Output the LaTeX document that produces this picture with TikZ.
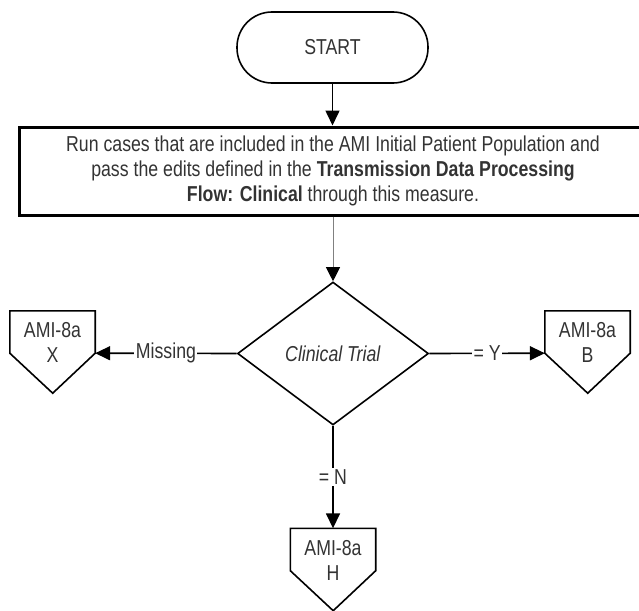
\documentclass[tikz,border=0pt]{standalone}
\usepackage{fontspec}
\setmainfont{Liberation Sans}[FakeStretch=0.82]
\usepackage{xcolor}
\definecolor{flowtext}  {HTML}{333333}
\definecolor{flowgrey}  {HTML}{808080}
\usetikzlibrary{arrows.meta, shapes.geometric}

\tikzset{
    base/.style={font=\fontsize{21.6}{25}\selectfont, text=flowtext, align=center, inner sep=0pt},
    terminal/.style={base, draw, line width=1.6pt, rounded corners=35pt,
        minimum width=191pt, minimum height=71pt},
    process/.style={base, draw, line width=3pt, minimum width=628pt, minimum height=88pt},
    decision/.style={base, draw, diamond, line width=1.6pt, minimum width=191pt, minimum height=143pt},
    offpage/.style={base, minimum width=85pt, minimum height=42pt},
    penline/.style={line width=1.6pt, line join=miter},
    flow/.style={line width=1.6pt, -{Triangle[length=15pt, width=14pt]}},
    thinflow/.style={line width=1pt, draw=flowgrey, -{Triangle[length=14pt, width=14pt, color=black]}},
    edgelbl/.style={base, fill=white, inner sep=1.5pt}
}

\begin{document}
\begin{tikzpicture}[x=1pt, y=-1pt]
    \useasboundingbox (0,0) rectangle (639,610);
    % Main column: start, process box, decision.
    \node[terminal] (start) at (332.5,47.5) {START};
    \node[process] (runbox) at (333,171)
        {Run cases that are included in the AMI Initial Patient Population and\\
         pass the edits defined in the \textbf{Transmission Data Processing}\\
         \textbf{Flow: Clinical} through this measure.};
    \node[decision] (trial) at (333,353.5) {\textit{Clinical Trial}};
    % Off-page connectors, body box plus pointed bottom.
    \foreach \nm/\cx/\cy/\ltr in {x8a/52.5/332/X, b8a/587.5/332/B, h8a/333/549.5/H} {
        \node[offpage] (\nm) at (\cx,\cy) {};
        \draw[penline] (\nm.south west) -- (\nm.north west) -- (\nm.north east)
            -- (\nm.south east) -- ++(-42.5,40) -- cycle;
        \node[base] (\nm-txt) at (\cx,\cy+10.5) {AMI-8a\\\ltr};
    }
    % Connectors.
    \draw[flow] (start.south) -- (start.south |- runbox.north);
    \draw[thinflow] (runbox.south) -- (trial.north);
    \draw[flow] (trial.west) -- node[edgelbl] {Missing} (x8a.south east);
    \draw[flow] (trial.east) -- node[edgelbl] {= Y} (b8a.south west);
    \draw[flow] (trial.south) -- node[edgelbl] {= N} (h8a.north);
\end{tikzpicture}
\end{document}
